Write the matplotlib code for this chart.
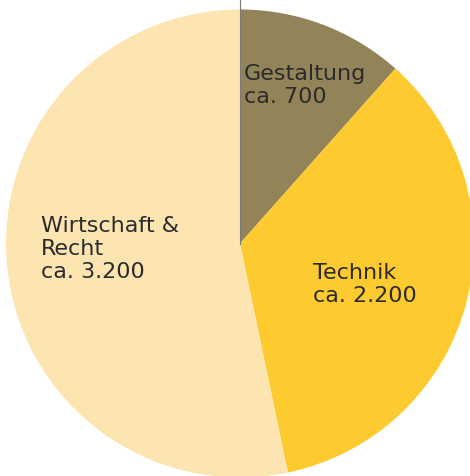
import matplotlib
matplotlib.use("Agg")
import matplotlib.pyplot as plt

labels = ["Gestaltung\nca. 700", "Technik\nca. 2.200", "Wirtschaft &\nRecht\nca. 3.200"]
values = [705, 2145, 3250]
colors = ["#938359", "#FDCA30", "#FDE5B2"]
label_pos = [(244, 412), (313, 213), (41, 260)]  # pixel coords, top-left of text

fig = plt.figure(figsize=(4.70, 4.76), dpi=100)
ax = fig.add_axes([0, 0, 1, 1])

cx, cy, r = 240, 232.5, 234
ax.pie(values, colors=colors, startangle=90, counterclock=False,
       center=(cx, cy), radius=r, frame=True,
       wedgeprops={"linewidth": 0})
ax.set_xlim(0, 470)
ax.set_ylim(0, 476)
ax.set_aspect("equal")
ax.axis("off")

# thin leader line at the top
ax.plot([cx, cx], [cy, 476], color="#7a7a7a", lw=0.8, zorder=5)

for txt, (x, y) in zip(labels, label_pos):
    ax.text(x, y, txt, ha="left", va="top", fontsize=16, color="#2b2b2b",
            family="DejaVu Sans", linespacing=1.2)

fig.savefig("out.png", dpi=100)
